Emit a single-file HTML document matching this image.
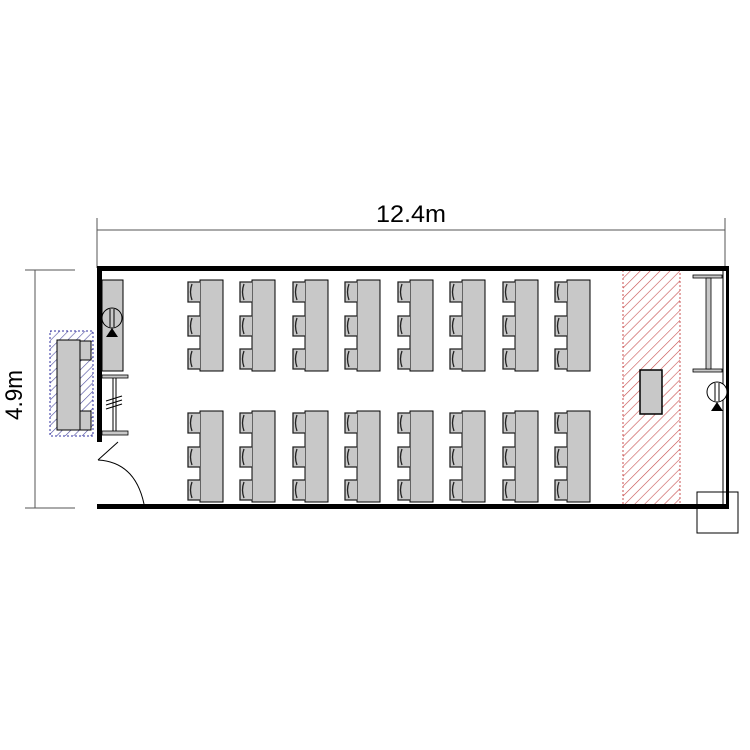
<!DOCTYPE html>
<html><head><style>body{margin:0;background:#fff}svg{display:block}</style></head><body>
<svg width="750" height="750" viewBox="0 0 750 750" xmlns="http://www.w3.org/2000/svg" font-family="Liberation Sans, sans-serif">
<defs>
<pattern id="red" patternUnits="userSpaceOnUse" width="7" height="7" patternTransform="rotate(45)"><line x1="0" y1="0" x2="0" y2="7" stroke="#c85050" stroke-width="1.2"/></pattern>
<pattern id="blue" patternUnits="userSpaceOnUse" width="6" height="6" patternTransform="rotate(45)"><line x1="0" y1="0" x2="0" y2="6" stroke="#5050a0" stroke-width="1.2"/></pattern>
<g id="desk">
<rect x="14" y="0" width="23" height="91" fill="#c8c8c8" stroke="#000"/>
<g fill="#c8c8c8" stroke="#222" stroke-width="1.3">
<path d="M14 2 h-12 v20 h12"/><path d="M6 4 q-3 8 0 16" fill="none"/>
<path d="M14 36 h-12 v20 h12"/><path d="M6 38 q-3 8 0 16" fill="none"/>
<path d="M14 69 h-12 v20 h12"/><path d="M6 71 q-3 8 0 16" fill="none"/>
</g>
</g>
</defs>
<g stroke="#555" stroke-width="1">
<line x1="97" y1="230" x2="725" y2="230"/>
<line x1="97" y1="218" x2="97" y2="268"/>
<line x1="725" y1="218" x2="725" y2="268"/>
<line x1="35" y1="270" x2="35" y2="508"/>
<line x1="25" y1="270" x2="75" y2="270"/>
<line x1="25" y1="508" x2="75" y2="508"/>
</g>
<text x="376" y="222" font-size="24" textLength="70" lengthAdjust="spacingAndGlyphs">12.4m</text>
<text transform="translate(22,420) rotate(-90)" font-size="24" textLength="50" lengthAdjust="spacingAndGlyphs">4.9m</text>
<rect x="623" y="270" width="57" height="236" fill="url(#red)" stroke="#c85050" stroke-dasharray="2,2"/>
<rect x="640" y="370" width="22" height="44" fill="#c8c8c8" stroke="#000" stroke-width="1.5"/>
<g fill="#000">
<rect x="97" y="266" width="632" height="5"/>
<rect x="97" y="504" width="632" height="5"/>
<rect x="97" y="266" width="5" height="176"/>
<rect x="726" y="266" width="3" height="243"/>
</g>
<line x1="723" y1="271" x2="723" y2="504" stroke="#000"/>
<g>
<use href="#desk" x="186" y="280"/><use href="#desk" x="238" y="280"/><use href="#desk" x="291" y="280"/><use href="#desk" x="343" y="280"/>
<use href="#desk" x="396" y="280"/><use href="#desk" x="448" y="280"/><use href="#desk" x="501" y="280"/><use href="#desk" x="553" y="280"/>
<use href="#desk" x="186" y="411"/><use href="#desk" x="238" y="411"/><use href="#desk" x="291" y="411"/><use href="#desk" x="343" y="411"/>
<use href="#desk" x="396" y="411"/><use href="#desk" x="448" y="411"/><use href="#desk" x="501" y="411"/><use href="#desk" x="553" y="411"/>
</g>
<rect x="102" y="280" width="21" height="91" fill="#c8c8c8" stroke="#000"/>
<circle cx="112" cy="318" r="10" fill="none" stroke="#000"/>
<line x1="110" y1="309" x2="110" y2="327" stroke="#000"/><line x1="114" y1="309" x2="114" y2="327" stroke="#000"/>
<path d="M112 328 l-6 9 h12z" fill="#000"/>
<rect x="102" y="375" width="26" height="3" fill="#c8c8c8" stroke="#000" stroke-width="0.8"/>
<rect x="102" y="431" width="26" height="4" fill="#c8c8c8" stroke="#000" stroke-width="0.8"/>
<line x1="113" y1="378" x2="113" y2="431" stroke="#000"/><line x1="116" y1="378" x2="116" y2="431" stroke="#000"/>
<g stroke="#000"><line x1="106" y1="401" x2="122" y2="396"/><line x1="106" y1="405" x2="122" y2="400"/><line x1="106" y1="409" x2="122" y2="404"/></g>
<line x1="118" y1="442" x2="98" y2="460" stroke="#000"/>
<path d="M98 460 Q135 462 144 504" fill="none" stroke="#000"/>
<rect x="50" y="331" width="43" height="105" fill="url(#blue)" stroke="#3030a0" stroke-dasharray="2,2"/>
<rect x="57" y="340" width="23" height="90" fill="#c8c8c8" stroke="#000"/>
<rect x="80" y="341" width="11" height="19" fill="#c8c8c8" stroke="#000"/>
<rect x="80" y="411" width="11" height="19" fill="#c8c8c8" stroke="#000"/>
<rect x="693" y="275" width="29" height="3" fill="#c8c8c8" stroke="#000" stroke-width="0.8"/>
<rect x="693" y="369" width="29" height="3" fill="#c8c8c8" stroke="#000" stroke-width="0.8"/>
<rect x="706" y="278" width="5" height="91" fill="#c8c8c8" stroke="#000" stroke-width="0.8"/>
<circle cx="717" cy="392" r="10" fill="#fff" stroke="#000"/>
<line x1="715" y1="383" x2="715" y2="401" stroke="#000"/><line x1="719" y1="383" x2="719" y2="401" stroke="#000"/>
<path d="M717 402 l-6 9 h12z" fill="#000"/>
<rect x="697" y="492" width="41" height="41" fill="none" stroke="#000"/>
</svg>
</body></html>
